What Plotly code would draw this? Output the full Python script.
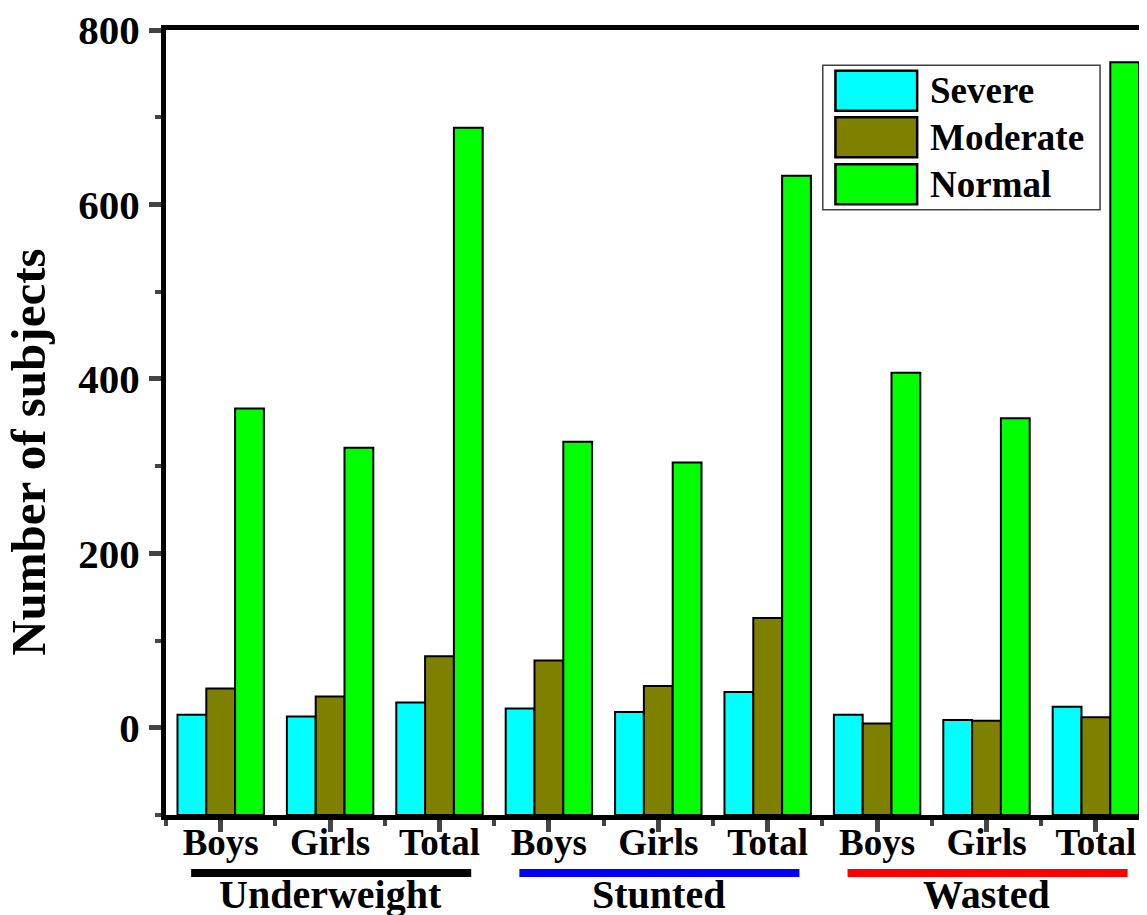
import plotly.graph_objects as go

# data
categories = ["Boys", "Girls", "Total", "Boys", "Girls", "Total", "Boys", "Girls", "Total"]
groups = ["Underweight", "Stunted", "Wasted"]
group_colors = ["#000000", "#0000FF", "#FF0000"]

severe = [15, 13, 29, 22, 18, 41, 15, 9, 24]
moderate = [45, 36, 82, 77, 48, 126, 5, 8, 12]
normal = [366, 321, 688, 328, 304, 633, 407, 355, 763]

series = [("Severe", severe, "#00FFFF"),
          ("Moderate", moderate, "#808000"),
          ("Normal", normal, "#00FF00")]

Y_MIN, Y_MAX = -100, 800   # bars are drawn up from the bottom of the axis
FONT = "Liberation Serif, Times New Roman, serif"

x_pos = list(range(len(categories)))

fig = go.Figure()
for name, vals, color in series:
    fig.add_trace(go.Bar(
        x=x_pos, y=[v - Y_MIN for v in vals], base=Y_MIN, name=name,
        customdata=vals,
        marker=dict(color=color, line=dict(color="black", width=2)),
        hovertemplate=name + ": %{customdata}<extra></extra>",
    ))

# group underline + label below the category ticks
for i, (g, c) in enumerate(zip(groups, group_colors)):
    center = 3 * i + 1
    fig.add_shape(type="line", xref="x", yref="paper",
                  x0=center - 1.27, x1=center + 1.29, y0=-0.074, y1=-0.074,
                  line=dict(color=c, width=8))
    fig.add_annotation(x=center, y=-0.101, xref="x", yref="paper", text=g,
                       showarrow=False, yanchor="middle",
                       font=dict(size=40, family=FONT, color="black", weight="bold"))

# legend drawn by hand so the swatches are as large as in the original
fig.add_shape(type="rect", xref="paper", yref="paper", x0=0.675, x1=0.960,
              y0=0.771, y1=0.955, line=dict(color="#404040", width=1.5),
              fillcolor="white", layer="above")
row_top = [0.948, 0.889, 0.829]
for (name, _, color), top in zip(series, row_top):
    fig.add_shape(type="rect", xref="paper", yref="paper", x0=0.688, x1=0.772,
                  y0=top - 0.051, y1=top, fillcolor=color,
                  line=dict(color="black", width=2.5), layer="above")
    fig.add_annotation(x=0.783, y=top - 0.0255, xref="paper", yref="paper",
                       text=name, showarrow=False, xanchor="left", yanchor="middle",
                       font=dict(size=37, family=FONT, color="black", weight="bold"))

# y title sits a little below the middle of the axis in the original
fig.add_annotation(x=-0.1413, y=0.462, xref="paper", yref="paper",
                   text="Number of subjects", textangle=-90, showarrow=False,
                   xanchor="center", yanchor="middle",
                   font=dict(size=49, family=FONT, color="black", weight="bold"))

fig.update_layout(
    width=1131, height=907,
    margin=dict(l=158, r=0, t=22, b=100),
    paper_bgcolor="white", plot_bgcolor="white",
    font=dict(family=FONT, color="black", weight="bold"),
    barmode="group", bargap=0.21, bargroupgap=0,
    showlegend=False,
)
fig.update_xaxes(
    range=[-0.5, 8.394], tickmode="array", tickvals=x_pos, ticktext=categories,
    tickfont=dict(size=37), ticks="outside", ticklen=12, tickwidth=5,
    ticklabelstandoff=-21,
    minor=dict(tickmode="linear", tick0=0.5, dtick=1, ticks="outside",
               ticklen=6, tickwidth=4, showgrid=False),
    showline=True, linewidth=5, linecolor="black", mirror=True,
    showgrid=False, zeroline=False,
)
fig.update_yaxes(
    range=[Y_MIN, Y_MAX], tickvals=[0, 200, 400, 600, 800],
    tickfont=dict(size=41), ticks="outside", ticklen=12, tickwidth=5,
    ticklabelstandoff=1, ticklabeloverflow="allow",
    minor=dict(tickmode="linear", tick0=100, dtick=200, ticks="outside",
               ticklen=6, tickwidth=4, showgrid=False),
    showline=True, linewidth=5, linecolor="black",
    showgrid=False, zeroline=False,
)

fig.write_html("out.html")
